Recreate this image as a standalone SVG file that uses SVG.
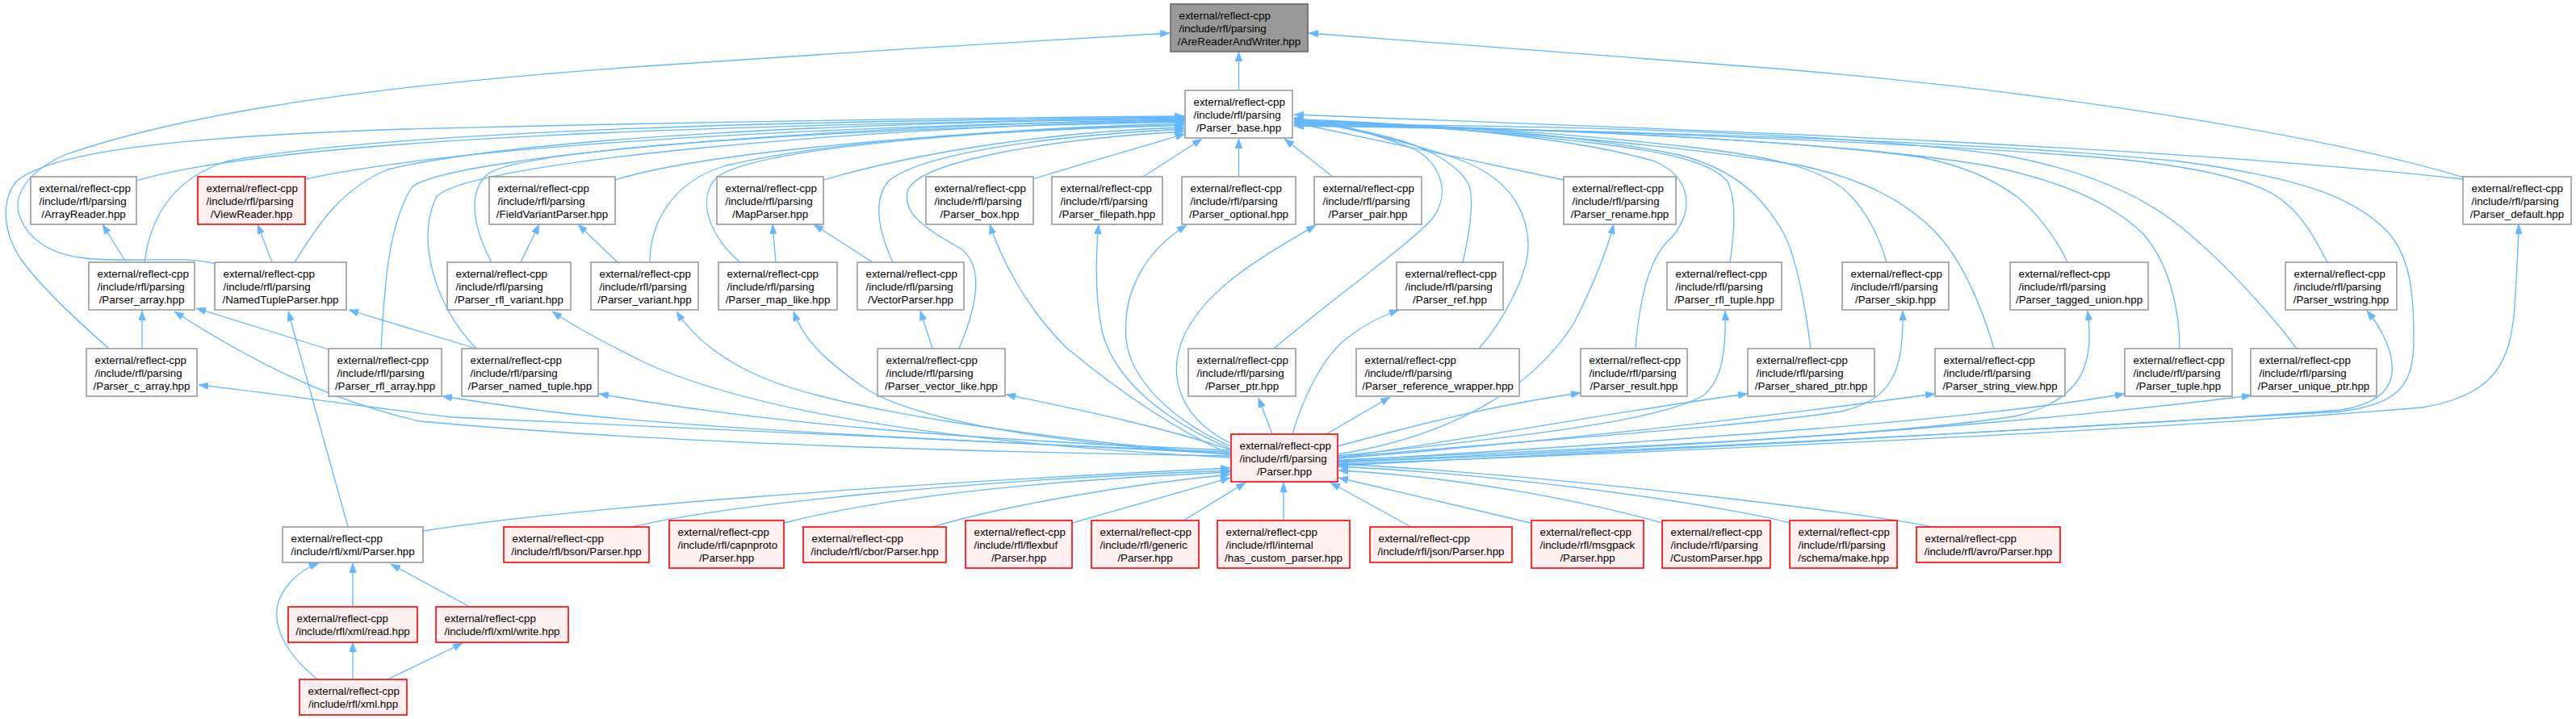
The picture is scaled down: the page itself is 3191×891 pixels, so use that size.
<svg xmlns="http://www.w3.org/2000/svg" width="3191" height="891" viewBox="0 0 3191 891">
<style>
.node rect{fill:#ffffff;stroke:#999999;stroke-width:1.6}
.node.red rect{fill:#fff0f0;stroke:#ff0000}
.node.main rect{fill:#999999;stroke:#666666}
.node text{font-family:"Liberation Sans",Arial,Helvetica,sans-serif;font-size:13.33px;fill:#000000}
.node text.c{text-anchor:middle}
#edges path{fill:none;stroke:#63b8ff;stroke-width:1.3;marker-end:url(#arr)}
</style>
<defs>
<marker id="arr" viewBox="0 0 12 9" refX="12" refY="4.5" markerWidth="12" markerHeight="9" markerUnits="userSpaceOnUse" orient="auto">
<path d="M0,0 L12,4.5 L0,9 z" fill="#63b8ff" stroke="#63b8ff" stroke-width="0.5"/>
</marker>
</defs>
<rect x="0" y="0" width="3191" height="891" fill="#ffffff"/>
<g id="edges">
<path d="M1534.5,112 L1534.5,64"/>
<path d="M3053,220 C2850,160 2500,110 2200,85 C1950,65 1750,50 1621,41"/>
<path d="M266,327 C230,316 160,326 105,320 C60,315 35,295 25,270 C15,245 30,215 80,192 C200,150 400,110 800,82 C1000,68 1250,52 1449,41"/>
<path d="M169,224 C350,170 900,155 1467,146"/>
<path d="M378,222 C550,185 900,160 1467,148"/>
<path d="M762,223 C850,195 1100,165 1467,155"/>
<path d="M1020,223 C1150,185 1320,162 1467,158"/>
<path d="M1279,222 C1350,200 1420,180 1468,166"/>
<path d="M1416,219 L1489,172"/>
<path d="M1534.5,219 L1534.5,172"/>
<path d="M1651,219 L1591,172"/>
<path d="M1937,223 L1603,152"/>
<path d="M3052,222 C2900,205 2700,190 2400,175 C2100,160 1800,150 1603,142"/>
<path d="M179,325 C185,280 205,225 280,200 C500,160 1000,150 1467,145"/>
<path d="M365,325 C390,285 420,235 480,210 C650,170 1050,152 1467,147"/>
<path d="M472,432 C476,360 480,280 510,232 C560,190 1100,152 1467,149"/>
<path d="M590,432 C540,380 515,300 540,245 C570,200 1100,155 1467,150"/>
<path d="M609,325 C590,290 575,240 605,215 C660,180 1100,158 1467,151"/>
<path d="M805,325 C805,280 830,225 900,205 C1050,170 1300,158 1467,153"/>
<path d="M917,325 C880,295 860,245 890,218 C950,180 1250,160 1467,155"/>
<path d="M1106,325 C1090,290 1080,250 1100,225 C1140,190 1300,168 1467,160"/>
<path d="M1188,432 C1210,380 1220,330 1190,308 C1150,285 1115,265 1125,235 C1140,200 1300,172 1467,163"/>
<path d="M135,432 C95,397 50,355 25,320 C5,290 0,250 20,225 C60,190 200,170 500,160 C900,150 1200,146 1467,144"/>
<path d="M1578,432 C1650,370 1750,300 1775,270 C1800,235 1780,195 1745,182 C1700,165 1650,152 1603,146"/>
<path d="M1812,325 C1820,290 1826,250 1820,230 C1805,200 1760,180 1720,170 C1680,160 1640,152 1603,147"/>
<path d="M1832,432 C1860,400 1895,340 1893,300 C1890,250 1860,215 1800,195 C1730,172 1660,156 1603,148"/>
<path d="M2026,432 C2030,380 2040,320 2070,295 C2100,260 2095,220 2050,200 C1950,170 1750,152 1603,148"/>
<path d="M2143,325 C2148,290 2152,250 2140,225 C2120,200 2060,188 1980,178 C1850,162 1700,152 1603,149"/>
<path d="M2243,432 C2235,370 2225,320 2210,290 C2185,245 2150,210 2080,192 C1950,165 1750,152 1603,150"/>
<path d="M2337,325 C2330,300 2315,265 2290,240 C2260,210 2200,195 2100,183 C1950,165 1750,153 1603,150"/>
<path d="M2470,432 C2455,380 2430,320 2395,285 C2360,250 2310,222 2230,205 C2050,175 1800,157 1603,151"/>
<path d="M2561,325 C2550,300 2525,265 2500,245 C2470,222 2430,205 2380,195 C2200,170 1850,158 1603,152"/>
<path d="M2700,432 C2700,390 2690,330 2655,290 C2620,255 2560,225 2460,205 C2250,170 1850,158 1603,153"/>
<path d="M2845,432 C2810,385 2750,320 2700,280 C2650,240 2580,210 2480,192 C2250,160 1850,155 1603,154"/>
<path d="M2883,325 C2870,300 2850,260 2815,240 C2770,215 2680,200 2560,192 C2250,170 1850,158 1603,155"/>
<path d="M1657,577 C2000,560 2600,530 2900,510 C2970,500 2990,480 2990,420 C2990,360 2985,320 2960,290 C2920,245 2850,220 2700,200 C2400,170 1900,160 1603,156"/>
<path d="M156,325 L127,278"/>
<path d="M337,325 L319,278"/>
<path d="M645,325 L668,278"/>
<path d="M765,325 L716,278"/>
<path d="M961,325 L957,278"/>
<path d="M1081,325 L1008,278"/>
<path d="M1155,432 L1140,385"/>
<path d="M176,432 L176,385"/>
<path d="M407,433 L243,382"/>
<path d="M590,432 L432,384"/>
<path d="M1524,562 C1200,545 800,530 560,517 C420,500 320,485 246,477"/>
<path d="M1524,565 C1200,560 800,548 520,522 C400,495 300,440 216,386"/>
<path d="M1524,560 C1200,548 850,530 680,510 C620,502 580,496 548,491"/>
<path d="M1524,558 C1200,545 950,525 742,488"/>
<path d="M1524,567 C1100,545 900,495 800,450 C760,430 720,410 684,386"/>
<path d="M1524,563 C1300,545 1050,510 950,470 C900,450 860,420 838,386"/>
<path d="M1524,563 C1300,550 1130,520 1070,480 C1020,445 995,420 983,386"/>
<path d="M1524,557 C1440,530 1350,510 1246,489"/>
<path d="M1576,538 L1559,493"/>
<path d="M1524,563 C1450,530 1380,480 1320,430 C1270,380 1240,320 1226,278"/>
<path d="M1524,556 C1440,520 1380,470 1365,410 C1355,360 1358,310 1361,278"/>
<path d="M1524,553 C1450,520 1400,470 1395,420 C1390,360 1420,310 1470,279"/>
<path d="M1524,549 C1465,520 1445,470 1465,420 C1490,360 1560,320 1630,279"/>
<path d="M1601,538 C1615,490 1640,440 1670,418 C1690,402 1710,392 1733,384"/>
<path d="M1643,538 L1722,492"/>
<path d="M1657,563 C1800,540 1900,480 1950,400 C1980,340 1992,305 1999,278"/>
<path d="M1657,553 C1760,525 1860,500 1958,487"/>
<path d="M1657,565 C1900,540 2060,520 2110,490 C2135,470 2138,430 2137,385"/>
<path d="M1657,567 C1850,540 2000,510 2165,488"/>
<path d="M1657,567 C1900,545 2150,530 2280,510 C2345,495 2358,460 2357,385"/>
<path d="M1657,568 C1950,545 2200,515 2397,488"/>
<path d="M1657,570 C2000,555 2350,540 2500,515 C2580,495 2595,450 2586,385"/>
<path d="M1657,571 C2100,545 2450,520 2632,488"/>
<path d="M1657,572 C2200,550 2550,520 2789,490"/>
<path d="M1657,573 C2100,555 2600,530 2900,508 C2960,498 2970,470 2960,435 C2952,410 2940,395 2932,385"/>
<path d="M1657,575 C2200,555 2700,530 3000,505 C3090,490 3110,450 3115,380 C3118,330 3120,300 3120,278"/>
<path d="M524,658 C700,630 1100,600 1524,580"/>
<path d="M783,653 C900,625 1200,595 1524,583"/>
<path d="M971,648 C1100,615 1300,595 1524,585"/>
<path d="M1155,653 C1250,625 1400,600 1524,588"/>
<path d="M1328,648 L1524,592"/>
<path d="M1466,645 L1543,598"/>
<path d="M1590,645 L1590,598"/>
<path d="M1748,653 L1648,598"/>
<path d="M1896,648 L1658,592"/>
<path d="M2059,648 C1960,620 1800,590 1658,583"/>
<path d="M2217,648 C2150,630 1900,590 1658,578"/>
<path d="M2393,653 C2340,640 1950,590 1658,575"/>
<path d="M431,653 L357,386"/>
<path d="M437,752 L437,698"/>
<path d="M582,752 L484,699"/>
<path d="M393,842 C360,815 335,780 345,745 C355,720 375,705 395,698"/>
<path d="M437,842 L437,796"/>
<path d="M480,842 L573,797"/>
</g>
<g id="n-arw" class="node main"><rect x="1450" y="5" width="170" height="59"/><text x="1460.5" y="23.5">external/reflect-cpp</text><text x="1460.5" y="39.5">/include/rfl/parsing</text><text class="c" x="1535" y="55.5">/AreReaderAndWriter.hpp</text></g>
<g id="n-pbase" class="node"><rect x="1468" y="112" width="133" height="59"/><text x="1478.5" y="130.5">external/reflect-cpp</text><text x="1478.5" y="146.5">/include/rfl/parsing</text><text class="c" x="1534.5" y="162.5">/Parser_base.hpp</text></g>
<g id="n-arrayreader" class="node"><rect x="38" y="219" width="131" height="59"/><text x="48.5" y="237.5">external/reflect-cpp</text><text x="48.5" y="253.5">/include/rfl/parsing</text><text class="c" x="103.5" y="269.5">/ArrayReader.hpp</text></g>
<g id="n-viewreader" class="node red"><rect x="245" y="219" width="133" height="59"/><text x="255.5" y="237.5">external/reflect-cpp</text><text x="255.5" y="253.5">/include/rfl/parsing</text><text class="c" x="311.5" y="269.5">/ViewReader.hpp</text></g>
<g id="n-fvp" class="node"><rect x="606" y="219" width="156" height="59"/><text x="616.5" y="237.5">external/reflect-cpp</text><text x="616.5" y="253.5">/include/rfl/parsing</text><text class="c" x="684" y="269.5">/FieldVariantParser.hpp</text></g>
<g id="n-mapparser" class="node"><rect x="888" y="219" width="132" height="59"/><text x="898.5" y="237.5">external/reflect-cpp</text><text x="898.5" y="253.5">/include/rfl/parsing</text><text class="c" x="954" y="269.5">/MapParser.hpp</text></g>
<g id="n-pbox" class="node"><rect x="1147" y="219" width="133" height="59"/><text x="1157.5" y="237.5">external/reflect-cpp</text><text x="1157.5" y="253.5">/include/rfl/parsing</text><text class="c" x="1213.5" y="269.5">/Parser_box.hpp</text></g>
<g id="n-pfilepath" class="node"><rect x="1303" y="219" width="137" height="59"/><text x="1313.5" y="237.5">external/reflect-cpp</text><text x="1313.5" y="253.5">/include/rfl/parsing</text><text class="c" x="1371.5" y="269.5">/Parser_filepath.hpp</text></g>
<g id="n-poptional" class="node"><rect x="1464" y="219" width="141" height="59"/><text x="1474.5" y="237.5">external/reflect-cpp</text><text x="1474.5" y="253.5">/include/rfl/parsing</text><text class="c" x="1534.5" y="269.5">/Parser_optional.hpp</text></g>
<g id="n-ppair" class="node"><rect x="1628" y="219" width="133" height="59"/><text x="1638.5" y="237.5">external/reflect-cpp</text><text x="1638.5" y="253.5">/include/rfl/parsing</text><text class="c" x="1694.5" y="269.5">/Parser_pair.hpp</text></g>
<g id="n-prename" class="node"><rect x="1937" y="219" width="139" height="59"/><text x="1947.5" y="237.5">external/reflect-cpp</text><text x="1947.5" y="253.5">/include/rfl/parsing</text><text class="c" x="2006.5" y="269.5">/Parser_rename.hpp</text></g>
<g id="n-pdefault" class="node"><rect x="3051" y="219" width="134" height="59"/><text x="3061.5" y="237.5">external/reflect-cpp</text><text x="3061.5" y="253.5">/include/rfl/parsing</text><text class="c" x="3118" y="269.5">/Parser_default.hpp</text></g>
<g id="n-parray" class="node"><rect x="110" y="325" width="131" height="59"/><text x="120.5" y="343.5">external/reflect-cpp</text><text x="120.5" y="359.5">/include/rfl/parsing</text><text class="c" x="175.5" y="375.5">/Parser_array.hpp</text></g>
<g id="n-ntp" class="node"><rect x="266" y="325" width="163" height="59"/><text x="276.5" y="343.5">external/reflect-cpp</text><text x="276.5" y="359.5">/include/rfl/parsing</text><text class="c" x="347.5" y="375.5">/NamedTupleParser.hpp</text></g>
<g id="n-prflvariant" class="node"><rect x="554" y="325" width="153" height="59"/><text x="564.5" y="343.5">external/reflect-cpp</text><text x="564.5" y="359.5">/include/rfl/parsing</text><text class="c" x="630.5" y="375.5">/Parser_rfl_variant.hpp</text></g>
<g id="n-pvariant" class="node"><rect x="732" y="325" width="133" height="59"/><text x="742.5" y="343.5">external/reflect-cpp</text><text x="742.5" y="359.5">/include/rfl/parsing</text><text class="c" x="798.5" y="375.5">/Parser_variant.hpp</text></g>
<g id="n-pmaplike" class="node"><rect x="890" y="325" width="147" height="59"/><text x="900.5" y="343.5">external/reflect-cpp</text><text x="900.5" y="359.5">/include/rfl/parsing</text><text class="c" x="963.5" y="375.5">/Parser_map_like.hpp</text></g>
<g id="n-vectorparser" class="node"><rect x="1062" y="325" width="132" height="59"/><text x="1072.5" y="343.5">external/reflect-cpp</text><text x="1072.5" y="359.5">/include/rfl/parsing</text><text class="c" x="1128" y="375.5">/VectorParser.hpp</text></g>
<g id="n-pref" class="node"><rect x="1730" y="325" width="132" height="59"/><text x="1740.5" y="343.5">external/reflect-cpp</text><text x="1740.5" y="359.5">/include/rfl/parsing</text><text class="c" x="1796" y="375.5">/Parser_ref.hpp</text></g>
<g id="n-prfltuple" class="node"><rect x="2065" y="325" width="142" height="59"/><text x="2075.5" y="343.5">external/reflect-cpp</text><text x="2075.5" y="359.5">/include/rfl/parsing</text><text class="c" x="2136" y="375.5">/Parser_rfl_tuple.hpp</text></g>
<g id="n-pskip" class="node"><rect x="2282" y="325" width="132" height="59"/><text x="2292.5" y="343.5">external/reflect-cpp</text><text x="2292.5" y="359.5">/include/rfl/parsing</text><text class="c" x="2348" y="375.5">/Parser_skip.hpp</text></g>
<g id="n-ptaggedunion" class="node"><rect x="2490" y="325" width="171" height="59"/><text x="2500.5" y="343.5">external/reflect-cpp</text><text x="2500.5" y="359.5">/include/rfl/parsing</text><text class="c" x="2575.5" y="375.5">/Parser_tagged_union.hpp</text></g>
<g id="n-pwstring" class="node"><rect x="2831" y="325" width="138" height="59"/><text x="2841.5" y="343.5">external/reflect-cpp</text><text x="2841.5" y="359.5">/include/rfl/parsing</text><text class="c" x="2900" y="375.5">/Parser_wstring.hpp</text></g>
<g id="n-pcarray" class="node"><rect x="107" y="432" width="137" height="59"/><text x="117.5" y="450.5">external/reflect-cpp</text><text x="117.5" y="466.5">/include/rfl/parsing</text><text class="c" x="175.5" y="482.5">/Parser_c_array.hpp</text></g>
<g id="n-prflarray" class="node"><rect x="407" y="432" width="140" height="59"/><text x="417.5" y="450.5">external/reflect-cpp</text><text x="417.5" y="466.5">/include/rfl/parsing</text><text class="c" x="477" y="482.5">/Parser_rfl_array.hpp</text></g>
<g id="n-pnamedtuple" class="node"><rect x="572" y="432" width="169" height="59"/><text x="582.5" y="450.5">external/reflect-cpp</text><text x="582.5" y="466.5">/include/rfl/parsing</text><text class="c" x="656.5" y="482.5">/Parser_named_tuple.hpp</text></g>
<g id="n-pvectorlike" class="node"><rect x="1087" y="432" width="158" height="59"/><text x="1097.5" y="450.5">external/reflect-cpp</text><text x="1097.5" y="466.5">/include/rfl/parsing</text><text class="c" x="1166" y="482.5">/Parser_vector_like.hpp</text></g>
<g id="n-pptr" class="node"><rect x="1472" y="432" width="133" height="59"/><text x="1482.5" y="450.5">external/reflect-cpp</text><text x="1482.5" y="466.5">/include/rfl/parsing</text><text class="c" x="1538.5" y="482.5">/Parser_ptr.hpp</text></g>
<g id="n-prefwrapper" class="node"><rect x="1680" y="432" width="202" height="59"/><text x="1690.5" y="450.5">external/reflect-cpp</text><text x="1690.5" y="466.5">/include/rfl/parsing</text><text class="c" x="1781" y="482.5">/Parser_reference_wrapper.hpp</text></g>
<g id="n-presult" class="node"><rect x="1958" y="432" width="132" height="59"/><text x="1968.5" y="450.5">external/reflect-cpp</text><text x="1968.5" y="466.5">/include/rfl/parsing</text><text class="c" x="2024" y="482.5">/Parser_result.hpp</text></g>
<g id="n-psharedptr" class="node"><rect x="2165" y="432" width="157" height="59"/><text x="2175.5" y="450.5">external/reflect-cpp</text><text x="2175.5" y="466.5">/include/rfl/parsing</text><text class="c" x="2243.5" y="482.5">/Parser_shared_ptr.hpp</text></g>
<g id="n-pstringview" class="node"><rect x="2397" y="432" width="161" height="59"/><text x="2407.5" y="450.5">external/reflect-cpp</text><text x="2407.5" y="466.5">/include/rfl/parsing</text><text class="c" x="2477.5" y="482.5">/Parser_string_view.hpp</text></g>
<g id="n-ptuple" class="node"><rect x="2632" y="432" width="133" height="59"/><text x="2642.5" y="450.5">external/reflect-cpp</text><text x="2642.5" y="466.5">/include/rfl/parsing</text><text class="c" x="2698.5" y="482.5">/Parser_tuple.hpp</text></g>
<g id="n-puniqueptr" class="node"><rect x="2788" y="432" width="156" height="59"/><text x="2798.5" y="450.5">external/reflect-cpp</text><text x="2798.5" y="466.5">/include/rfl/parsing</text><text class="c" x="2866" y="482.5">/Parser_unique_ptr.hpp</text></g>
<g id="n-parser" class="node red"><rect x="1525" y="538" width="132" height="59"/><text x="1535.5" y="556.5">external/reflect-cpp</text><text x="1535.5" y="572.5">/include/rfl/parsing</text><text class="c" x="1591" y="588.5">/Parser.hpp</text></g>
<g id="n-xmlparser" class="node"><rect x="350" y="653" width="174" height="44"/><text x="360.5" y="671.5">external/reflect-cpp</text><text class="c" x="437" y="687.5">/include/rfl/xml/Parser.hpp</text></g>
<g id="n-bson" class="node red"><rect x="624" y="653" width="180" height="44"/><text x="634.5" y="671.5">external/reflect-cpp</text><text class="c" x="714" y="687.5">/include/rfl/bson/Parser.hpp</text></g>
<g id="n-capnproto" class="node red"><rect x="829" y="645" width="142" height="59"/><text x="839.5" y="663.5">external/reflect-cpp</text><text x="839.5" y="679.5">/include/rfl/capnproto</text><text class="c" x="900" y="695.5">/Parser.hpp</text></g>
<g id="n-cbor" class="node red"><rect x="995" y="653" width="177" height="44"/><text x="1005.5" y="671.5">external/reflect-cpp</text><text class="c" x="1083.5" y="687.5">/include/rfl/cbor/Parser.hpp</text></g>
<g id="n-flexbuf" class="node red"><rect x="1196" y="645" width="132" height="59"/><text x="1206.5" y="663.5">external/reflect-cpp</text><text x="1206.5" y="679.5">/include/rfl/flexbuf</text><text class="c" x="1262" y="695.5">/Parser.hpp</text></g>
<g id="n-generic" class="node red"><rect x="1352" y="645" width="133" height="59"/><text x="1362.5" y="663.5">external/reflect-cpp</text><text x="1362.5" y="679.5">/include/rfl/generic</text><text class="c" x="1418.5" y="695.5">/Parser.hpp</text></g>
<g id="n-hascustom" class="node red"><rect x="1508" y="645" width="164" height="59"/><text x="1518.5" y="663.5">external/reflect-cpp</text><text x="1518.5" y="679.5">/include/rfl/internal</text><text class="c" x="1590" y="695.5">/has_custom_parser.hpp</text></g>
<g id="n-json" class="node red"><rect x="1697" y="653" width="176" height="44"/><text x="1707.5" y="671.5">external/reflect-cpp</text><text class="c" x="1785" y="687.5">/include/rfl/json/Parser.hpp</text></g>
<g id="n-msgpack" class="node red"><rect x="1897" y="645" width="139" height="59"/><text x="1907.5" y="663.5">external/reflect-cpp</text><text x="1907.5" y="679.5">/include/rfl/msgpack</text><text class="c" x="1966.5" y="695.5">/Parser.hpp</text></g>
<g id="n-customparser" class="node red"><rect x="2059" y="645" width="134" height="59"/><text x="2069.5" y="663.5">external/reflect-cpp</text><text x="2069.5" y="679.5">/include/rfl/parsing</text><text class="c" x="2126" y="695.5">/CustomParser.hpp</text></g>
<g id="n-schemamake" class="node red"><rect x="2217" y="645" width="133" height="59"/><text x="2227.5" y="663.5">external/reflect-cpp</text><text x="2227.5" y="679.5">/include/rfl/parsing</text><text class="c" x="2283.5" y="695.5">/schema/make.hpp</text></g>
<g id="n-avro" class="node red"><rect x="2374" y="653" width="178" height="44"/><text x="2384.5" y="671.5">external/reflect-cpp</text><text class="c" x="2463" y="687.5">/include/rfl/avro/Parser.hpp</text></g>
<g id="n-xmlread" class="node red"><rect x="357" y="752" width="160" height="44"/><text x="367.5" y="770.5">external/reflect-cpp</text><text class="c" x="437" y="786.5">/include/rfl/xml/read.hpp</text></g>
<g id="n-xmlwrite" class="node red"><rect x="540" y="752" width="164" height="44"/><text x="550.5" y="770.5">external/reflect-cpp</text><text class="c" x="622" y="786.5">/include/rfl/xml/write.hpp</text></g>
<g id="n-xmlhpp" class="node red"><rect x="371" y="842" width="133" height="44"/><text x="381.5" y="860.5">external/reflect-cpp</text><text class="c" x="437.5" y="876.5">/include/rfl/xml.hpp</text></g>
</svg>
